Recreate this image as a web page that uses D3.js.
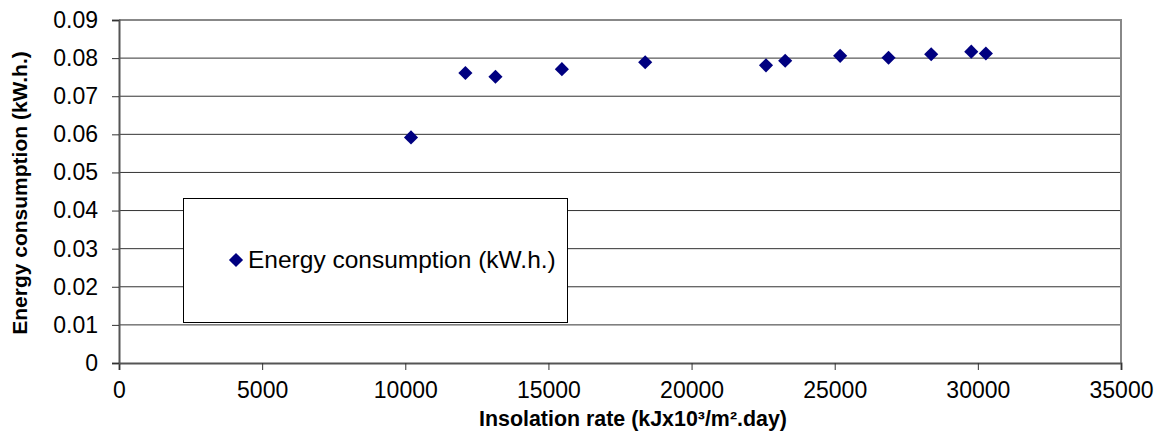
<!DOCTYPE html>
<html>
<head>
<meta charset="utf-8">
<script src="https://cdn.jsdelivr.net/npm/d3@7"></script>
<style>
  body { margin: 0; background: #fff; }
  text { font-family: "Liberation Sans", Arial, sans-serif; }
</style>
</head>
<body>
<svg width="1161" height="432"></svg>
<script>
// insolation rate (kJx10^3/m2.day) and energy consumption (kW.h.)
var insolation = [10200, 12100, 13150, 15470, 18380, 22600, 23270, 25190, 26880, 28370, 29770, 30280];
var energy = [0.0592, 0.0761, 0.0751, 0.0771, 0.0789, 0.0781, 0.0793, 0.0806, 0.0801, 0.0810, 0.0817, 0.0812];
var xTicks = [0, 5000, 10000, 15000, 20000, 25000, 30000, 35000];
var yTicks = [0, 0.01, 0.02, 0.03, 0.04, 0.05, 0.06, 0.07, 0.08, 0.09];

var svg = d3.select('svg');

var plotLeft = 119, plotRight = 1121, plotTop = 20, plotBottom = 363;

var x = d3.scaleLinear().domain([0, 35000]).range([plotLeft, plotRight]);
var y = d3.scaleLinear().domain([0, 0.09]).range([plotBottom, plotTop]);

// gridlines
svg.append('g')
  .selectAll('line')
  .data(yTicks.slice(1, -1))
  .enter().append('line')
    .attr('x1', plotLeft).attr('x2', plotRight)
    .attr('y1', function(d) { return y(d); })
    .attr('y2', function(d) { return y(d); })
    .style('stroke', '#333')
    .style('stroke-width', 1);

// frame top/right
svg.append('path')
  .attr('d', 'M' + plotLeft + ',' + y(0.09) + 'H' + plotRight + 'V' + plotBottom)
  .style('fill', 'none')
  .style('stroke', '#888')
  .style('stroke-width', 2);

// axes
var xAxis = svg.append('g')
  .attr('transform', 'translate(0,' + plotBottom + ')')
  .call(d3.axisBottom(x).tickValues(xTicks).tickSize(7).tickPadding(12).tickFormat(d3.format('d')));
var yAxis = svg.append('g')
  .attr('transform', 'translate(' + plotLeft + ',0)')
  .call(d3.axisLeft(y).tickValues(yTicks).tickSize(7).tickPadding(14).tickFormat(function(d) { return d === 0 ? '0' : d3.format('.2f')(d); }));

[xAxis, yAxis].forEach(function(a) {
  a.select('.domain').style('stroke', '#555').style('stroke-width', 2);
  a.selectAll('.tick line').style('stroke', '#333');
  a.selectAll('text').style('font-size', '23px').style('fill', '#000')
    .style('font-family', '"Liberation Sans", Arial, sans-serif');
});

// legend box
svg.append('rect')
  .attr('x', 183.5).attr('y', 198.5)
  .attr('width', 384).attr('height', 124)
  .style('fill', '#fff')
  .style('stroke', '#000')
  .style('stroke-width', 1);

var diamond = d3.symbol().type(d3.symbolSquare).size(100);

svg.append('path')
  .attr('d', diamond())
  .attr('transform', 'translate(236,260) rotate(45)')
  .style('fill', '#000080');
svg.append('text')
  .attr('x', 248).attr('y', 268)
  .style('font-size', '24.5px')
  .text('Energy consumption (kW.h.)');

// points
svg.append('g')
  .selectAll('path')
  .data(insolation)
  .enter().append('path')
    .attr('d', diamond())
    .attr('transform', function(d, i) { return 'translate(' + x(d) + ',' + y(energy[i]) + ') rotate(45)'; })
    .style('fill', '#000080');

// axis titles
svg.append('text')
  .attr('x', 633).attr('y', 426)
  .attr('text-anchor', 'middle')
  .style('font-size', '21.4px')
  .style('font-weight', 'bold')
  .text('Insolation rate (kJx10³/m².day)');

svg.append('text')
  .attr('transform', 'translate(27,193) rotate(-90)')
  .attr('text-anchor', 'middle')
  .style('font-size', '21px')
  .style('font-weight', 'bold')
  .text('Energy consumption (kW.h.)');
</script>
</body>
</html>
